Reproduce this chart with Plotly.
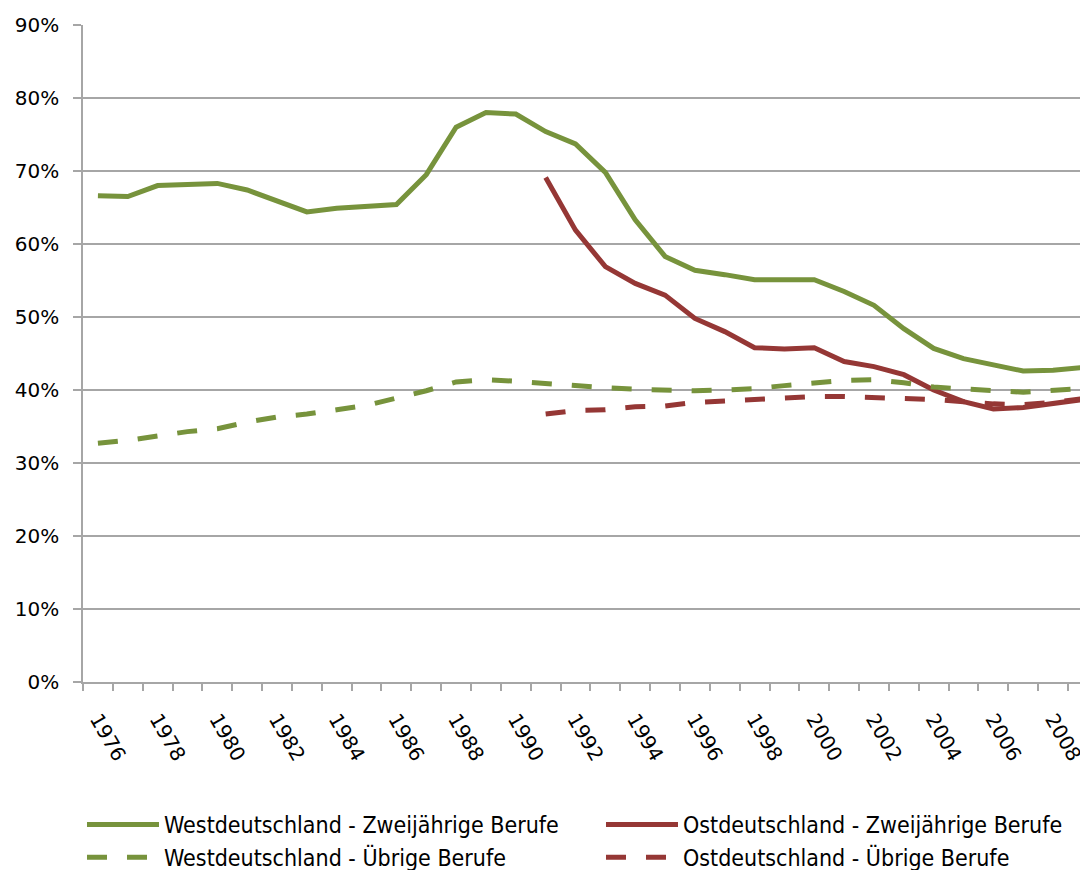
import plotly.graph_objects as go

years_west = list(range(1976, 2010))
years_ost = list(range(1991, 2010))

west_zwei = [66.6, 66.5, 68.0, 68.2, 68.3, 67.4, 65.9, 64.4, 64.9, 65.2, 65.4, 69.5,
             76.0, 78.0, 77.8, 75.4, 73.7, 69.8, 63.3, 58.3, 56.4, 55.8, 55.1, 55.1,
             55.1, 53.5, 51.6, 48.4, 45.7, 44.3, 43.4, 42.6, 42.7, 43.1]
west_uebrige = [32.7, 33.1, 33.7, 34.3, 34.7, 35.6, 36.3, 36.7, 37.3, 37.9, 38.9, 39.9,
                41.1, 41.4, 41.2, 40.9, 40.5, 40.3, 40.1, 40.0, 39.9, 40.0, 40.2, 40.6,
                41.0, 41.3, 41.4, 41.0, 40.4, 40.1, 39.9, 39.7, 39.9, 40.2]
ost_zwei = [69.1, 61.9, 56.9, 54.6, 53.0, 49.8, 48.0, 45.8, 45.6, 45.8, 43.9, 43.2,
            42.1, 40.0, 38.4, 37.4, 37.6, 38.2, 38.7]
ost_uebrige = [36.7, 37.2, 37.3, 37.7, 37.8, 38.3, 38.5, 38.7, 39.0, 39.1, 39.1, 39.0,
               38.8, 38.7, 38.4, 38.1, 38.0, 38.3, 38.8]

tick_years = list(range(1976, 2010, 2))
tick_labels = [str(y) for y in tick_years]
y_ticks = list(range(0, 100, 10))
y_labels = [f"{v}%" for v in y_ticks]

GREEN = "#77933C"
RED = "#953735"
GRID = "#A6A6A6"
DASH = "20px,20px"

fig = go.Figure()
fig.add_trace(go.Scatter(x=years_west, y=west_zwei, mode="lines",
                         name="Westdeutschland - Zweijährige Berufe",
                         line=dict(color=GREEN, width=5)))
fig.add_trace(go.Scatter(x=years_ost, y=ost_zwei, mode="lines",
                         name="Ostdeutschland - Zweijährige Berufe",
                         line=dict(color=RED, width=5)))
fig.add_trace(go.Scatter(x=years_west, y=west_uebrige, mode="lines",
                         name="Westdeutschland - Übrige Berufe",
                         line=dict(color=GREEN, width=5, dash=DASH)))
fig.add_trace(go.Scatter(x=years_ost, y=ost_uebrige, mode="lines",
                         name="Ostdeutschland - Übrige Berufe",
                         line=dict(color=RED, width=5, dash=DASH)))

# page body adds an 8px margin, so the figure is 1080x862 to fill the 1088x870 view
fig.update_layout(
    width=1080, height=862,
    margin=dict(l=75, r=0, t=17, b=188, autoexpand=False),
    paper_bgcolor="white", plot_bgcolor="white",
    font=dict(family="DejaVu Sans", size=20, color="black"),
    showlegend=True,
    legend=dict(orientation="h", xref="paper", x=-0.001, xanchor="left",
                yref="paper", y=-0.1842, yanchor="top",
                itemwidth=72, entrywidth=432, entrywidthmode="pixels",
                font=dict(family="DejaVu Sans Condensed, Lato, sans-serif", size=23),
                traceorder="normal", tracegroupgap=0),
    xaxis=dict(
        range=[1975.5, 2009.17], automargin=False,
        tickmode="array", tickvals=tick_years, ticktext=tick_labels,
        tickangle=60, ticks="", showgrid=False, zeroline=False,
        showline=True, linecolor=GRID, linewidth=1.5,
        ticklabelstandoff=16,
        minor=dict(tickmode="linear", tick0=1975.5, dtick=1, ticks="outside",
                   ticklen=7, tickcolor=GRID, tickwidth=1.5, showgrid=False),
    ),
    yaxis=dict(
        range=[0, 90], automargin=False,
        tickmode="array", tickvals=y_ticks, ticktext=y_labels,
        ticks="outside", ticklen=8, tickcolor=GRID, tickwidth=1.5,
        showgrid=True, gridcolor=GRID, gridwidth=1.5, zeroline=False,
        showline=True, linecolor=GRID, linewidth=1.5,
        ticklabelstandoff=10,
    ),
)

fig.write_html("out.html")
